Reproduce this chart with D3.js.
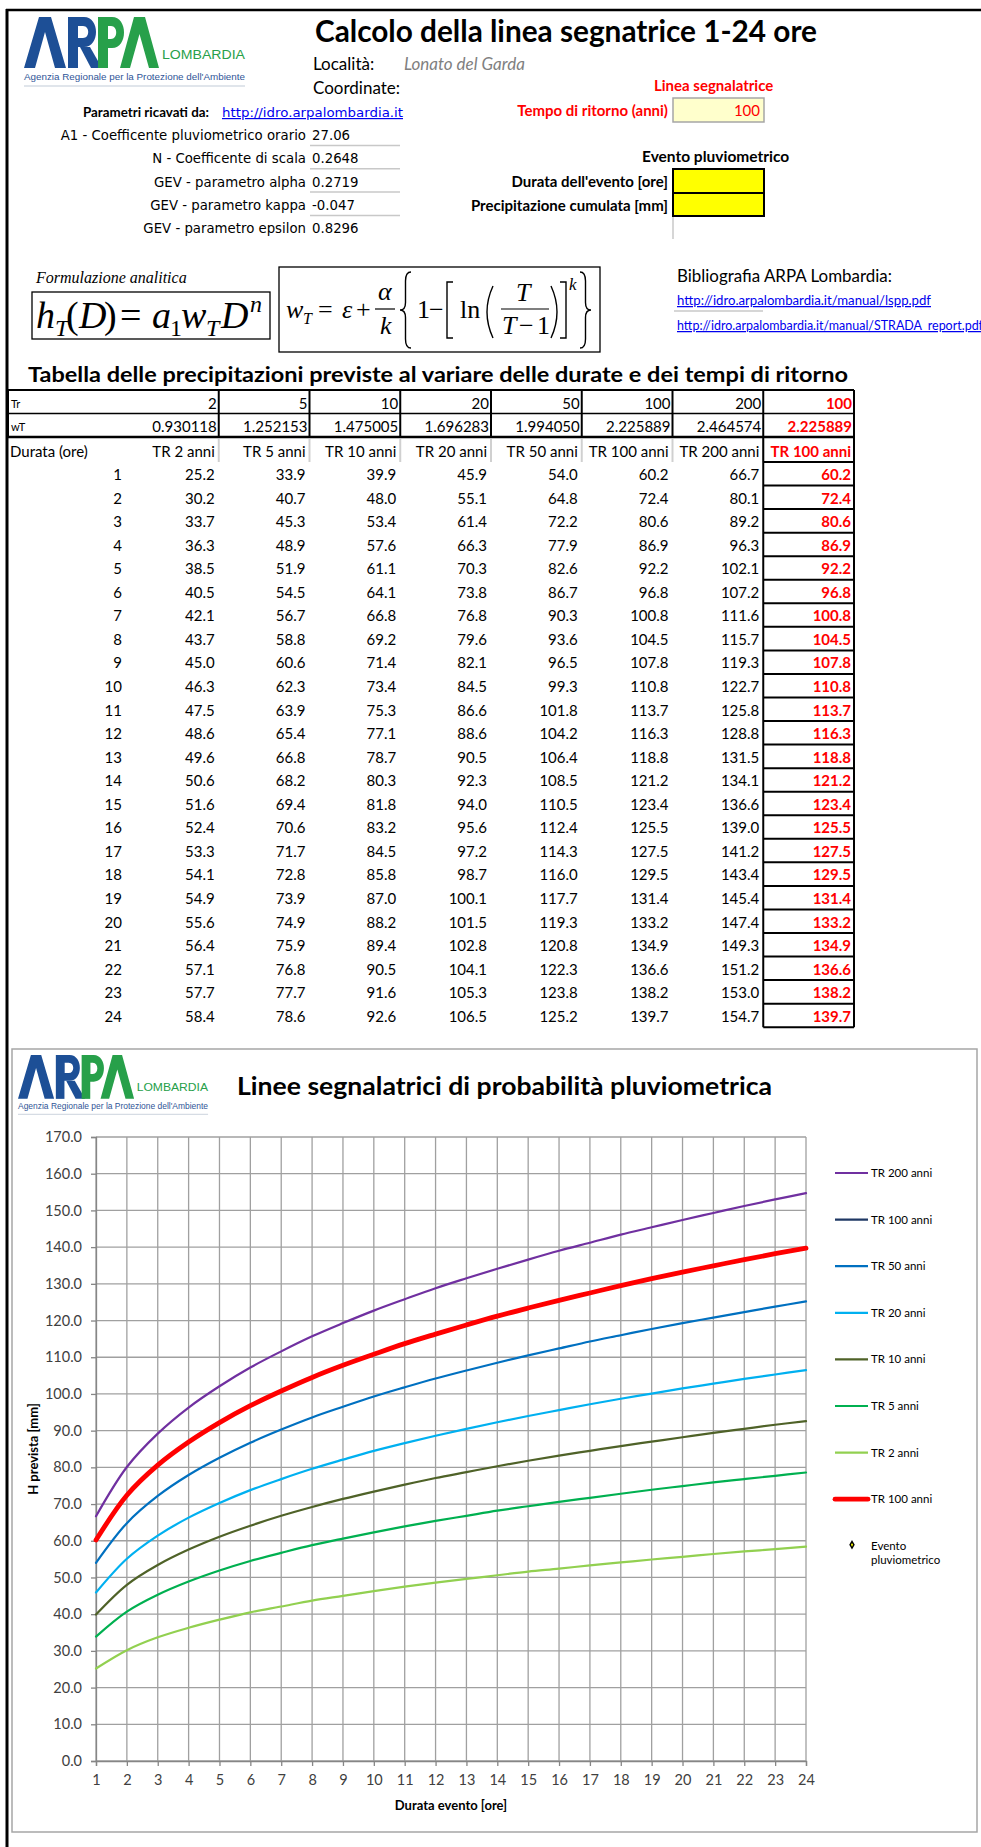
<!DOCTYPE html>
<html>
<head>
<meta charset="utf-8">
<script src="https://cdn.jsdelivr.net/npm/d3@7"></script>
<style>
  body { margin: 0; background: #fff; }
  svg { display: block; }
</style>
</head>
<body>
<svg id="sheet" width="981" height="1847" font-family="Lato, 'Open Sans', sans-serif"></svg>
<script>
// values
const locality = "Lonato del Garda";
const paramLabels = ["A1 - Coefficente pluviometrico orario", "N - Coefficente di scala",
  "GEV - parametro alpha", "GEV - parametro kappa", "GEV - parametro epsilon"];
const paramValues = ["27.06", "0.2648", "0.2719", "-0.047", "0.8296"];

const returnPeriods = [2, 5, 10, 20, 50, 100, 200];
const wTValues = [0.930118, 1.252153, 1.475005, 1.696283, 1.994050, 2.225889, 2.464574];
const selectedTr = 100;
const selectedWT = 2.225889;

const durations = [1, 2, 3, 4, 5, 6, 7, 8, 9, 10, 11, 12, 13, 14, 15, 16, 17, 18, 19, 20, 21, 22, 23, 24];
const tr2 = [25.2, 30.2, 33.7, 36.3, 38.5, 40.5, 42.1, 43.7, 45.0, 46.3, 47.5, 48.6, 49.6, 50.6, 51.6, 52.4, 53.3, 54.1, 54.9, 55.6, 56.4, 57.1, 57.7, 58.4];
const tr5 = [33.9, 40.7, 45.3, 48.9, 51.9, 54.5, 56.7, 58.8, 60.6, 62.3, 63.9, 65.4, 66.8, 68.2, 69.4, 70.6, 71.7, 72.8, 73.9, 74.9, 75.9, 76.8, 77.7, 78.6];
const tr10 = [39.9, 48.0, 53.4, 57.6, 61.1, 64.1, 66.8, 69.2, 71.4, 73.4, 75.3, 77.1, 78.7, 80.3, 81.8, 83.2, 84.5, 85.8, 87.0, 88.2, 89.4, 90.5, 91.6, 92.6];
const tr20 = [45.9, 55.1, 61.4, 66.3, 70.3, 73.8, 76.8, 79.6, 82.1, 84.5, 86.6, 88.6, 90.5, 92.3, 94.0, 95.6, 97.2, 98.7, 100.1, 101.5, 102.8, 104.1, 105.3, 106.5];
const tr50 = [54.0, 64.8, 72.2, 77.9, 82.6, 86.7, 90.3, 93.6, 96.5, 99.3, 101.8, 104.2, 106.4, 108.5, 110.5, 112.4, 114.3, 116.0, 117.7, 119.3, 120.8, 122.3, 123.8, 125.2];
const tr100 = [60.2, 72.4, 80.6, 86.9, 92.2, 96.8, 100.8, 104.5, 107.8, 110.8, 113.7, 116.3, 118.8, 121.2, 123.4, 125.5, 127.5, 129.5, 131.4, 133.2, 134.9, 136.6, 138.2, 139.7];
const tr200 = [66.7, 80.1, 89.2, 96.3, 102.1, 107.2, 111.6, 115.7, 119.3, 122.7, 125.8, 128.8, 131.5, 134.1, 136.6, 139.0, 141.2, 143.4, 145.4, 147.4, 149.3, 151.2, 153.0, 154.7];
const trSelected = tr100; // linea segnalatrice, Tr = 100

const yTicks = [0, 10, 20, 30, 40, 50, 60, 70, 80, 90, 100, 110, 120, 130, 140, 150, 160, 170];

const svg = d3.select('#sheet');
const serif = '"Liberation Serif", "DejaVu Serif", serif';
const verdana = '"DejaVu Sans", Verdana, sans-serif';
const arial = '"Liberation Sans", Arial, sans-serif';

function txt(g, s, x, y, size, opts = {}) {
  const t = g.append('text').attr('x', x).attr('y', y).attr('font-size', size).text(s);
  if (opts.anchor) t.attr('text-anchor', opts.anchor);
  if (opts.bold) t.attr('font-weight', 'bold');
  if (opts.italic) t.attr('font-style', 'italic');
  if (opts.fill) t.attr('fill', opts.fill);
  if (opts.family) t.attr('font-family', opts.family);
  if (opts.len) t.attr('textLength', opts.len).attr('lengthAdjust', 'spacingAndGlyphs');
  if (opts.underline) t.attr('text-decoration', 'underline');
  return t;
}

// ARPA logo, drawn in a 221 x 69 box
function drawLogo(g, x, y, s) {
  const L = g.append('g').attr('transform', `translate(${x},${y}) scale(${s})`);
  const blue = '#1d4f96', green = '#27a04a';
  L.append('polygon').attr('points', '0,51 15,0 27,0 42,51 31,51 21,15 11,51').attr('fill', blue);
  L.append('rect').attr('x', 44).attr('y', 0).attr('width', 10).attr('height', 51).attr('fill', blue);
  L.append('path').attr('fill', blue).attr('fill-rule', 'evenodd')
    .attr('d', 'M50,0 H60 C76,0 76,30 60,30 H50 Z M54,9 H59 C66,9 66,21 59,21 H54 Z');
  L.append('polygon').attr('points', '56,30 66,30 78,51 67,51').attr('fill', blue);
  L.append('rect').attr('x', 74).attr('y', 0).attr('width', 10).attr('height', 51).attr('fill', green);
  L.append('path').attr('fill', green).attr('fill-rule', 'evenodd')
    .attr('d', 'M80,0 H88 C104,0 104,31 88,31 H80 Z M84,9 H87 C94,9 94,22 87,22 H84 Z');
  L.append('polygon').attr('points', '96,51 110,0 121,0 135,51 125,51 115.5,17 106,51').attr('fill', green);
  txt(L, 'LOMBARDIA', 138, 42, 12, { fill: green, family: arial, len: 83 });
  txt(L, "Agenzia Regionale per la Protezione dell'Ambiente", 0, 63, 9.5,
    { fill: '#2f5597', family: arial, len: 221 });
  L.append('line').attr('x1', 0).attr('x2', 221).attr('y1', 69).attr('y2', 69)
    .attr('stroke', '#d6dce4').attr('stroke-width', 1.5);
}

// ---------- page frame ----------
svg.append('line').attr('x1', 6).attr('x2', 981).attr('y1', 10).attr('y2', 10).attr('stroke', '#000').attr('stroke-width', 2.5);
svg.append('line').attr('x1', 7).attr('x2', 7).attr('y1', 9).attr('y2', 1847).attr('stroke', '#000').attr('stroke-width', 3);

// ---------- header ----------
const head = svg.append('g');
drawLogo(head, 24, 17, 1);
txt(head, 'Calcolo della linea segnatrice 1-24 ore', 315, 42, 30, { bold: true, len: 502 });
txt(head, 'Località:', 313, 70, 17);
txt(head, locality, 404, 70, 17, { italic: true, fill: '#808080' });
txt(head, 'Coordinate:', 313, 94, 17);

txt(head, 'Parametri ricavati da:', 83, 117, 13, { bold: true, len: 126 });
txt(head, 'http://idro.arpalombardia.it', 222, 117, 12, { fill: '#0000ee', family: verdana, underline: true, len: 181 });

paramLabels.forEach((lab, i) => {
  const by = 140 + i * 23.3;
  txt(head, lab, 306, by, 13.3, { anchor: 'end', family: verdana });
  txt(head, paramValues[i], 312, by, 13.3, { family: verdana });
  if (i < 4) {
    head.append('line').attr('x1', 310).attr('x2', 400).attr('y1', by + 5.5).attr('y2', by + 5.5)
      .attr('stroke', '#c8c8c8').attr('stroke-width', 1.5);
  }
});

txt(head, 'Linea segnalatrice', 654, 91, 15, { bold: true, fill: '#ff0000' });
txt(head, 'Tempo di ritorno (anni)', 668, 116, 15, { bold: true, fill: '#ff0000', anchor: 'end' });
head.append('rect').attr('x', 673).attr('y', 98).attr('width', 91).attr('height', 24)
  .attr('fill', '#ffffcc').attr('stroke', '#a6a6a6').attr('stroke-width', 1.5);
txt(head, String(selectedTr), 760, 116, 15, { fill: '#ff0000', anchor: 'end' });

txt(head, 'Evento pluviometrico', 642, 162, 15.5, { bold: true });
txt(head, "Durata dell'evento [ore]", 668, 187, 15, { bold: true, anchor: 'end' });
txt(head, 'Precipitazione cumulata [mm]', 668, 211, 15, { bold: true, anchor: 'end' });
head.append('rect').attr('x', 673).attr('y', 169).attr('width', 91).attr('height', 24)
  .attr('fill', '#ffff00').attr('stroke', '#000').attr('stroke-width', 2);
head.append('rect').attr('x', 673).attr('y', 193).attr('width', 91).attr('height', 23)
  .attr('fill', '#ffff00').attr('stroke', '#000').attr('stroke-width', 2);
head.append('line').attr('x1', 673).attr('x2', 673).attr('y1', 217).attr('y2', 239)
  .attr('stroke', '#c8c8c8').attr('stroke-width', 1.5);

// ---------- formulas ----------
const f = svg.append('g').attr('font-family', serif);
txt(f, 'Formulazione analitica', 36, 283, 16, { italic: true, family: serif });
f.append('rect').attr('x', 32).attr('y', 292).attr('width', 238).attr('height', 47)
  .attr('fill', 'none').attr('stroke', '#000').attr('stroke-width', 1.3);
[
  ['h', 36, 328, 38, true], ['T', 55, 336, 24, true], ['(', 66, 328, 38, false], ['D', 79, 328, 38, true],
  [')', 104, 328, 38, false], ['=', 120, 328, 38, false], ['a', 152, 328, 38, true], ['1', 170, 336, 24, false],
  ['w', 181, 328, 38, true], ['T', 206, 336, 24, true], ['D', 221, 328, 38, true], ['n', 250, 312, 24, true]
].forEach(p => txt(f, p[0], p[1], p[2], p[3], { italic: p[4], family: serif }));

f.append('rect').attr('x', 279).attr('y', 267).attr('width', 321).attr('height', 85)
  .attr('fill', 'none').attr('stroke', '#000').attr('stroke-width', 1.3);
[
  ['w', 286, 318, 26, true], ['T', 303, 324, 16, true], ['=', 318, 318, 26, false], ['ε', 342, 318, 26, true],
  ['+', 356, 318, 26, false], ['α', 378, 300, 26, true], ['k', 380, 334, 26, true], ['1', 417, 318, 26, false],
  ['−', 429, 318, 26, false], ['ln', 460, 318, 26, false], ['T', 516, 301, 26, true], ['T', 502, 334, 26, true],
  ['−', 519, 334, 26, false], ['1', 537, 334, 26, false], ['k', 569, 290, 17, true]
].forEach(p => txt(f, p[0], p[1], p[2], p[3], { italic: p[4], family: serif }));
const stroke = (d, w) => f.append('path').attr('d', d).attr('fill', 'none').attr('stroke', '#000').attr('stroke-width', w || 1.4);
stroke('M375,309 H395', 1.2);
stroke('M501,309 H549', 1.2);
function brace(x0, x1, y0, y1, open) {
  const xm = (x0 + x1) / 2, ym = (y0 + y1) / 2, h = y1 - y0;
  const a = open ? x1 : x0, b = open ? x0 : x1;
  return `M${a},${y0} Q${xm},${y0} ${xm},${y0 + h * 0.12} L${xm},${ym - h * 0.1} Q${xm},${ym} ${b},${ym}` +
    ` Q${xm},${ym} ${xm},${ym + h * 0.1} L${xm},${y1 - h * 0.12} Q${xm},${y1} ${a},${y1}`;
}
stroke(brace(400, 411, 272, 348, true));
stroke(brace(580, 591, 272, 348, false));
stroke('M453,282 H447 V338 H453');
stroke('M560,282 H566 V338 H560');
stroke('M493,286 Q481,312 493,338');
stroke('M551,286 Q563,312 551,338');

// bibliography
txt(svg, 'Bibliografia ARPA Lombardia:', 677, 282, 16.5, { len: 215 });
txt(svg, 'http://idro.arpalombardia.it/manual/lspp.pdf', 677, 305, 12.5, { fill: '#0000ee', underline: true, len: 254 });
txt(svg, 'http://idro.arpalombardia.it/manual/STRADA_report.pdf', 677, 330, 12.5, { fill: '#0000ee', underline: true, len: 306 });
svg.append('line').attr('x1', 674).attr('x2', 763).attr('y1', 311).attr('y2', 311).attr('stroke', '#c8c8c8').attr('stroke-width', 1.5);

// ---------- table ----------
const tb = svg.append('g');
txt(tb, 'Tabella delle precipitazioni previste al variare delle durate e dei tempi di ritorno', 28, 382, 21,
  { bold: true, len: 820 });

const colBand = d3.scaleBand().domain(d3.range(8)).range([128, 854]);
const colRight = i => colBand(i) + colBand.bandwidth();
const rowBand = d3.scaleBand().domain(durations).range([462, 462 + 24 * 23.55]);
const tableCols = [tr2, tr5, tr10, tr20, tr50, tr100, tr200];

// Tr / wT rows
const topY = 390, midY = 413.5, hdrY = 437;
txt(tb, 'Tr', 11, 408, 11);
txt(tb, 'wT', 11, 431, 11);
returnPeriods.forEach((tr, i) => {
  txt(tb, String(tr), colRight(i) - 2, 409, 15, { anchor: 'end' });
  txt(tb, wTValues[i].toFixed(6), colRight(i) - 2, 432, 15, { anchor: 'end' });
});
txt(tb, String(selectedTr), colRight(7) - 2, 409, 15, { anchor: 'end', bold: true, fill: '#ff0000' });
txt(tb, selectedWT.toFixed(6), colRight(7) - 2, 432, 15, { anchor: 'end', bold: true, fill: '#ff0000' });

const edges = [8].concat(d3.range(8).map(i => colRight(i)));
edges.forEach(xe => tb.append('line').attr('x1', xe).attr('x2', xe).attr('y1', topY).attr('y2', hdrY)
  .attr('stroke', '#000').attr('stroke-width', 2));
[[topY, 2], [midY, 1.5], [hdrY, 2.5]].forEach(([yy, w]) => tb.append('line').attr('x1', 8).attr('x2', 854)
  .attr('y1', yy).attr('y2', yy).attr('stroke', '#000').attr('stroke-width', w));

// header of durations
txt(tb, 'Durata (ore)', 10, 457, 15);
returnPeriods.forEach((tr, i) => txt(tb, `TR ${tr} anni`, colRight(i) - 4, 457, 15, { anchor: 'end' }));
txt(tb, `TR ${selectedTr} anni`, colRight(7) - 3, 457, 15, { anchor: 'end', bold: true, fill: '#ff0000' });
edges.slice(1, 8).forEach(xe => tb.append('line').attr('x1', xe).attr('x2', xe).attr('y1', hdrY + 2).attr('y2', 462)
  .attr('stroke', '#d0d0d0').attr('stroke-width', 2));

// data rows
durations.forEach((d, r) => {
  const by = rowBand(d) + rowBand.bandwidth() - 5.5;
  txt(tb, String(d), colRight(0) - 2 - colBand.bandwidth() - 4, by, 15, { anchor: 'end' });
  tableCols.forEach((col, i) => txt(tb, col[r].toFixed(1), colRight(i) - 4, by, 15, { anchor: 'end' }));
  txt(tb, trSelected[r].toFixed(1), colRight(7) - 3, by, 15, { anchor: 'end', bold: true, fill: '#ff0000' });
});

// red column borders
const rx0 = colBand(7), rx1 = colRight(7), rEnd = rowBand.range()[1];
[rx0, rx1].forEach(xe => tb.append('line').attr('x1', xe).attr('x2', xe).attr('y1', hdrY).attr('y2', rEnd)
  .attr('stroke', '#000').attr('stroke-width', 2));
durations.forEach(d => tb.append('line').attr('x1', rx0).attr('x2', rx1)
  .attr('y1', rowBand(d)).attr('y2', rowBand(d)).attr('stroke', '#000').attr('stroke-width', 2));
tb.append('line').attr('x1', rx0).attr('x2', rx1).attr('y1', rEnd).attr('y2', rEnd).attr('stroke', '#000').attr('stroke-width', 2);

// ---------- chart ----------
const ch = svg.append('g');
ch.append('rect').attr('x', 12).attr('y', 1049).attr('width', 965).attr('height', 783)
  .attr('fill', '#fff').attr('stroke', '#a6a6a6').attr('stroke-width', 1.5);
drawLogo(ch, 18, 1055, 0.86);
txt(ch, 'Linee segnalatrici di probabilità pluviometrica', 237, 1095, 24, { bold: true, len: 535 });

const x = d3.scaleLinear().domain([1, 24]).range([96, 806]);
const y = d3.scaleLinear().domain([0, 170]).range([1761, 1137]);
const gridColor = '#a0a0a0';

ch.append('g').selectAll('line').data(yTicks).join('line')
  .attr('x1', x(1)).attr('x2', x(24)).attr('y1', d => y(d)).attr('y2', d => y(d))
  .attr('stroke', gridColor).attr('stroke-width', 1.3);
ch.append('g').selectAll('line').data(durations).join('line')
  .attr('x1', d => x(d)).attr('x2', d => x(d)).attr('y1', y(0)).attr('y2', y(170))
  .attr('stroke', gridColor).attr('stroke-width', 1.3);

const yAxis = ch.append('g').attr('transform', `translate(${x(1)},0)`)
  .call(d3.axisLeft(y).tickValues(yTicks).tickFormat(d3.format('.1f')).tickSize(5).tickPadding(9));
const xAxis = ch.append('g').attr('transform', `translate(0,${y(0)})`)
  .call(d3.axisBottom(x).tickValues(durations).tickFormat(d3.format('d')).tickSize(5).tickPadding(9));
[yAxis, xAxis].forEach(a => {
  a.attr('font-family', 'Lato, sans-serif').attr('font-size', 14.5);
  a.select('.domain').attr('stroke', '#868686').attr('stroke-width', 1.3);
  a.selectAll('.tick line').attr('stroke', '#868686').attr('stroke-width', 1.3);
  a.selectAll('text').attr('fill', '#404040');
});

txt(ch, 'Durata evento [ore]', (x(1) + x(24)) / 2, 1810, 13, { bold: true, anchor: 'middle' });
ch.append('text').attr('transform', 'translate(38,1449) rotate(-90)').attr('text-anchor', 'middle')
  .attr('font-size', 13).attr('font-weight', 'bold').text('H prevista [mm]');

const series = [
  { name: 'TR 2 anni', values: tr2, color: '#92d050', width: 2.2 },
  { name: 'TR 5 anni', values: tr5, color: '#00b050', width: 2.2 },
  { name: 'TR 10 anni', values: tr10, color: '#4f6228', width: 2.2 },
  { name: 'TR 20 anni', values: tr20, color: '#00b0f0', width: 2.2 },
  { name: 'TR 50 anni', values: tr50, color: '#0070c0', width: 2.2 },
  { name: 'TR 100 anni', values: tr100, color: '#1f3864', width: 2.2 },
  { name: 'TR 200 anni', values: tr200, color: '#7030a0', width: 2.2 },
  { name: `TR ${selectedTr} anni`, values: trSelected, color: '#ff0000', width: 4.8 }
];
const line = d3.line().x(d => x(d[0])).y(d => y(d[1])).curve(d3.curveCatmullRom.alpha(0.5));
ch.append('g').selectAll('path').data(series).join('path')
  .attr('d', s => line(durations.map((d, i) => [d, s.values[i]])))
  .attr('fill', 'none').attr('stroke', s => s.color).attr('stroke-width', s => s.width)
  .attr('stroke-linejoin', 'round').attr('stroke-linecap', 'round');

// legend
const legendOrder = [6, 5, 4, 3, 2, 1, 0, 7];
const lg = ch.append('g');
legendOrder.forEach((si, k) => {
  const s = series[si], ly = 1173 + k * 46.6;
  lg.append('line').attr('x1', 835).attr('x2', 868).attr('y1', ly).attr('y2', ly)
    .attr('stroke', s.color).attr('stroke-width', s.width).attr('stroke-linecap', si === 7 ? 'round' : 'butt');
  txt(lg, s.name, 871, ly + 4, 11.5);
});
const ey = 1173 + 8 * 46.6;
lg.append('path').attr('d', d3.symbol(d3.symbolDiamond, 26)()).attr('transform', `translate(852,${ey - 1})`)
  .attr('fill', '#000');
lg.append('path').attr('d', d3.symbol(d3.symbolDiamond, 4)()).attr('transform', `translate(852,${ey - 1})`)
  .attr('fill', '#ffff00');
txt(lg, 'Evento', 871, ey + 4, 11.5);
txt(lg, 'pluviometrico', 871, ey + 18, 11.5);
</script>
</body>
</html>
